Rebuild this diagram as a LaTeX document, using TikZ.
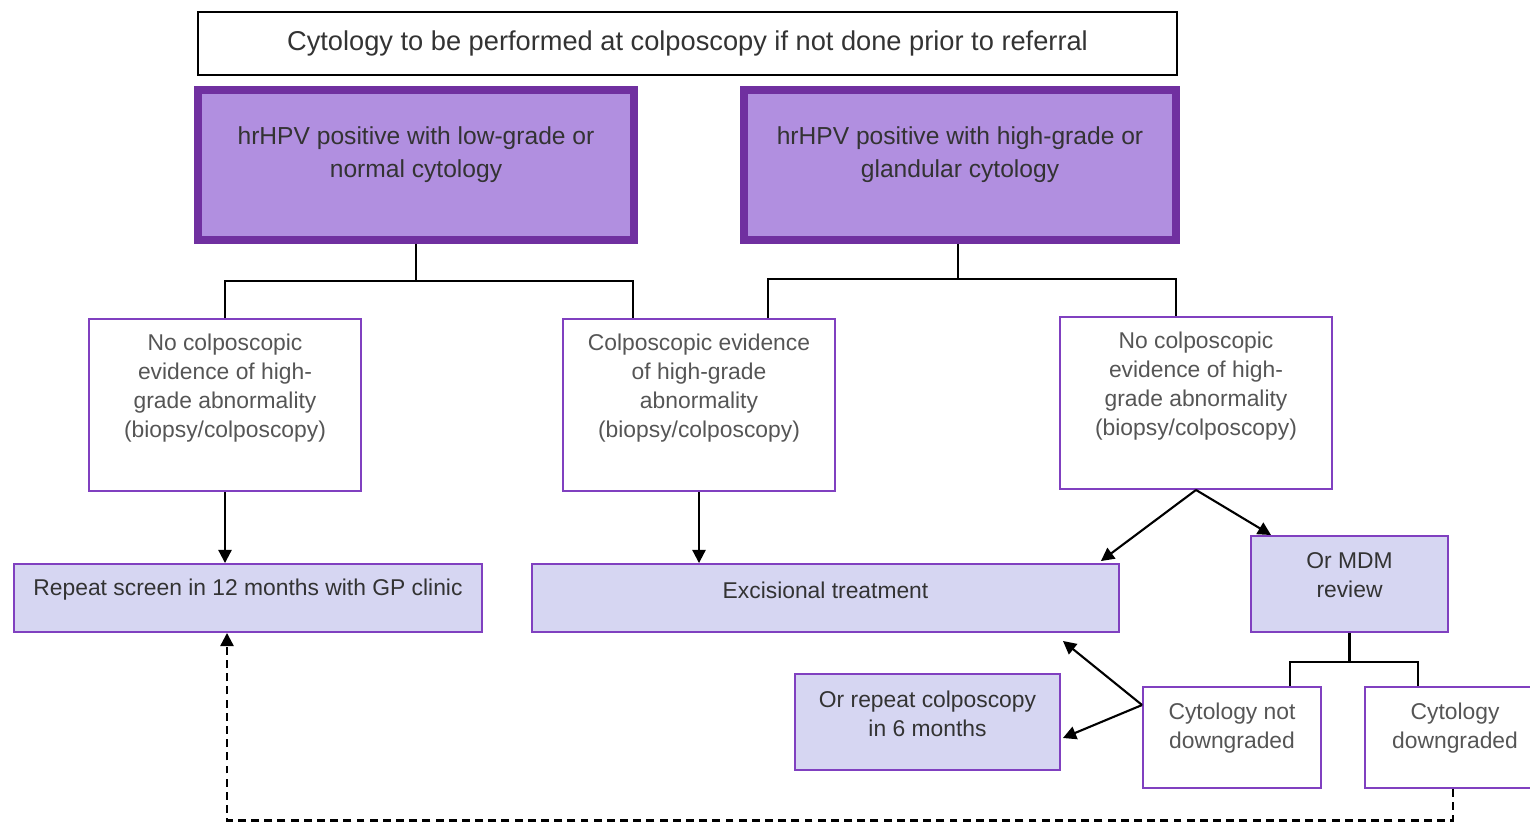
\documentclass[tikz,border=0pt]{standalone}
\usepackage{fontspec}
\setmainfont{Liberation Sans}
\usetikzlibrary{arrows.meta, positioning}
\definecolor{hpvline}{HTML}{7030A0}
\definecolor{hpvfill}{HTML}{B18FE0}
\definecolor{lavender}{HTML}{D6D6F2}
\definecolor{boxline}{HTML}{8040C0}
\definecolor{greytext}{HTML}{555555}
\definecolor{darktext}{HTML}{333333}

\begin{document}
\begin{tikzpicture}[x=0.02cm, y=-0.02cm,
  headbox/.style={draw=black, line width=0.9pt, minimum width=19.58cm, minimum height=1.26cm,
    font=\fontsize{15.5}{18}\selectfont, text=darktext},
  hpvbox/.style={draw=hpvline, fill=hpvfill, line width=4.5pt, minimum height=3cm},
  outcome/.style={draw=boxline, line width=1.1pt, minimum width=5.44cm, minimum height=3.44cm},
  actbox/.style={draw=boxline, fill=lavender, line width=1.1pt},
  bigtxt/.style={align=center, font=\fontsize{14}{18.8}\selectfont, text=darktext},
  smalltxt/.style={align=center, font=\fontsize{13}{16.5}\selectfont, text=greytext},
  acttxt/.style={align=center, font=\fontsize{13}{16.5}\selectfont, text=darktext},
  link/.style={line width=1.2pt},
  arrow/.style={link, -{Triangle[length=7.5pt,width=7.5pt]}}
]
\useasboundingbox (0,0) rectangle (1530,821);

% header
\node[headbox] (cytology) at (687.5,43.5) {Cytology to be performed at colposcopy if not done prior to referral};

% hrHPV groups
\node[hpvbox, minimum width=8.72cm] (lowgrade) at (416,165) {};
\node[bigtxt] (lowgradetxt) at ([yshift=0.2cm]lowgrade) {hrHPV positive with low-grade or\\normal cytology};
\node[hpvbox, minimum width=8.64cm] (highgrade) at (960,165) {};
\node[bigtxt] (highgradetxt) at ([yshift=0.2cm]highgrade) {hrHPV positive with high-grade or\\glandular cytology};

% colposcopy findings
\node[outcome] (nohigha) at (225,405) {};
\node[smalltxt] (nohighatxt) at ([yshift=0.33cm]nohigha) {No colposcopic\\evidence of high-\\grade abnormality\\(biopsy/colposcopy)};
\node[outcome] (colpoev) at (699,405) {};
\node[smalltxt] (colpoevtxt) at ([yshift=0.33cm]colpoev) {Colposcopic evidence\\of high-grade\\abnormality\\(biopsy/colposcopy)};
\node[outcome] (nohighb) at (1196,403) {};
\node[smalltxt] (nohighbtxt) at ([yshift=0.33cm]nohighb) {No colposcopic\\evidence of high-\\grade abnormality\\(biopsy/colposcopy)};

% actions
\node[actbox, minimum width=9.36cm, minimum height=1.36cm] (rescreen) at (248,598) {};
\node[acttxt] (rescreentxt) at ([yshift=0.16cm]rescreen) {Repeat screen in 12 months with GP clinic};
\node[actbox, minimum width=11.74cm, minimum height=1.36cm] (excision) at (825.5,598) {};
\node[acttxt] (excisiontxt) at ([yshift=0.16cm]excision) {Excisional treatment};
\node[actbox, minimum width=3.94cm, minimum height=1.92cm] (mdm) at (1349.5,584) {};
\node[acttxt] (mdmtxt) at ([yshift=0.17cm]mdm) {Or MDM\\review};
\node[actbox, minimum width=5.3cm, minimum height=1.92cm] (repcolpo) at (927.5,722) {};
\node[acttxt] (repcolpotxt) at ([yshift=0.17cm]repcolpo) {Or repeat colposcopy\\in 6 months};

% MDM outcomes
\node[outcome, minimum width=3.56cm, minimum height=2.02cm] (notdown) at (1232,737.5) {};
\node[smalltxt] (notdowntxt) at ([yshift=0.18cm]notdown) {Cytology not\\downgraded};
\node[outcome, minimum width=3.6cm, minimum height=2.02cm] (down) at (1455,737.5) {};
\node[smalltxt] (downtxt) at ([yshift=0.18cm]down) {Cytology\\downgraded};

% forks
\coordinate (lowfork) at (416,281);
\coordinate (highfork) at (958,279);
\coordinate (mdmfork) at (1349.5,662);
\draw[link] (lowgrade.south) -- (lowfork);
\draw[link] (nohigha.north) |- (lowfork) -| ([xshift=-1.32cm]colpoev.north);
\draw[link] (highgrade.south -| highfork) -- (highfork);
\draw[link] ([xshift=1.38cm]colpoev.north) |- (highfork) -| ([xshift=-0.4cm]nohighb.north);
\draw[link] (mdm.south) -- (mdmfork);
\draw[link] ([xshift=1.16cm]notdown.north) |- (mdmfork) -| ([xshift=-0.74cm]down.north);

% arrows
\draw[arrow] (nohigha.south) -- (nohigha.south |- rescreen.north);
\draw[arrow] (colpoev.south) -- (colpoev.south |- excision.north);
\draw[arrow] (nohighb.south) -- ([xshift=-0.38cm, yshift=0.04cm]excision.north east);
\draw[arrow] (nohighb.south) -- ([xshift=0.42cm]mdm.north west);
\draw[arrow] ([yshift=0.65cm]notdown.west) -- ([xshift=-1.14cm, yshift=-0.16cm]excision.south east);
\draw[arrow] ([yshift=0.65cm]notdown.west) -- ([xshift=0.04cm, yshift=-0.32cm]repcolpo.east);
\draw[arrow, dashed, line width=1.3pt, dash pattern=on 4.5pt off 3pt] ([xshift=-0.04cm]down.south) -- ++(0,31.5) -| ([xshift=-0.42cm]rescreen.south);
\end{tikzpicture}
\end{document}
